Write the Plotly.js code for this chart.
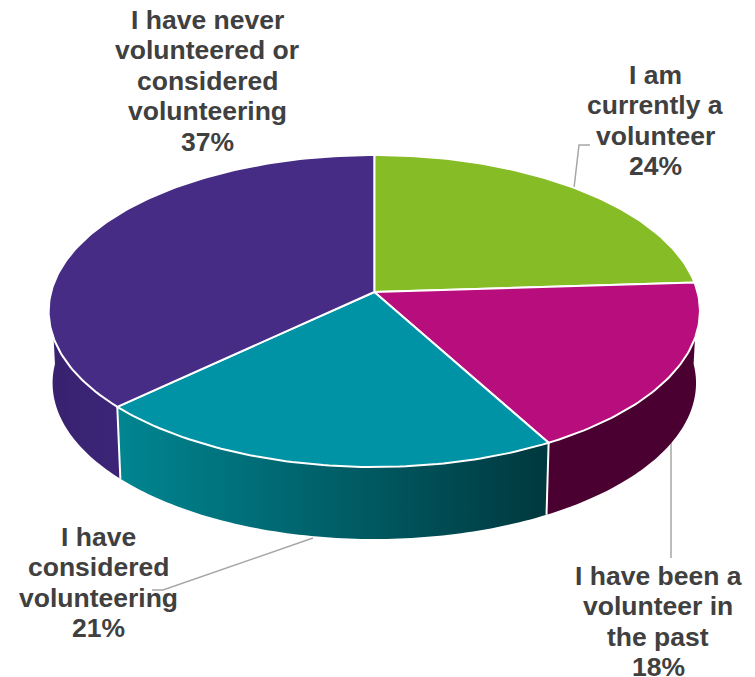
<!DOCTYPE html>
<html>
<head>
<meta charset="utf-8">
<script src="https://cdn.plot.ly/plotly-3.0.1.min.js"></script>
<style>html,body{margin:0;padding:0;background:#fff}#chart{width:755px;height:677px}</style>
</head>
<body>
<div id="chart"></div>
<script>
// Volunteering status of respondents, drawn as a tilted pie with a raised edge.
const categories = [
  ["I am", "currently a", "volunteer"],
  ["I have been a", "volunteer in", "the past"],
  ["I have", "considered", "volunteering"],
  ["I have never", "volunteered or", "considered", "volunteering"]
];
const values = [24, 18, 21, 37];
const topColors = ["#86bc25", "#b80d7c", "#0093a5", "#462c84"];
const sideColorsLeft = ["#5a7d19", "#4a0030", "#008692", "#38226f"];
const sideColorsRight = ["#5a7d19", "#4a0030", "#00383e", "#3c2578"];

const labelCentersX = [655, 658, 98, 207];
const labelFirstLineY = [74.5, 575.5, 536.5, 19.5];
const lineStep = 30.5;
const textColor = "#404040";
const leaderColor = "#a6a6a6";
const leaders = [
  "M 574 188 L 579 145 L 590 145",
  "M 671 430 L 671 558",
  "M 313 538 L 163 590 L 152 590"
];

// Viewing geometry of the disc: pivot, radii, foreshortening and edge height.
const view = {cx: 374.3, cy: 292, rx: 323.2, ry: 153.7, persp: 0.1218, depth: 72, baseScale: 0.988};

function rim(deg, lower) {
  const t = deg * Math.PI / 180;
  const u = Math.sin(t), v = Math.cos(t);
  const d = 1 + view.persp * v;
  const x = view.rx * u / d;
  const y = -view.ry * v / d;
  return lower
    ? [view.cx + x * view.baseScale, view.cy + y + view.depth]
    : [view.cx + x, view.cy + y];
}

const total = values.reduce((s, v) => s + v, 0);
const bounds = [0];
values.forEach(v => bounds.push(bounds[bounds.length - 1] + v / total * 360));

const traces = [];

// Edge of the disc: only the part between the two side extremes faces the viewer.
values.forEach((v, i) => {
  const a = Math.max(bounds[i], 90), b = Math.min(bounds[i + 1], 270);
  if (b <= a) return;
  const upper = [], lower = [];
  const n = Math.ceil(b - a);
  for (let k = 0; k <= n; k++) {
    const d = a + (b - a) * k / n;
    upper.push(rim(d));
    lower.unshift(rim(d, true));
  }
  const p = upper.concat(lower, [upper[0]]);
  traces.push({
    type: "scatter", mode: "none", fill: "toself",
    fillgradient: {
      type: "horizontal",
      colorscale: [[0, sideColorsLeft[i]], [1, sideColorsRight[i]]]
    },
    x: p.map(q => q[0]), y: p.map(q => q[1]),
    hoverinfo: "skip", showlegend: false
  });
});

// White seams between neighbouring edge faces.
bounds.slice(1, -1).forEach(d => {
  if (d < 90 || d > 270) return;
  const p = rim(d), q = rim(d, true);
  traces.push({
    type: "scatter", mode: "lines", x: [p[0], q[0]], y: [p[1], q[1]],
    line: {color: "#ffffff", width: 2}, hoverinfo: "skip", showlegend: false
  });
});

// Top face of each slice.
values.forEach((v, i) => {
  const xs = [view.cx], ys = [view.cy];
  const n = Math.ceil(bounds[i + 1] - bounds[i]);
  for (let k = 0; k <= n; k++) {
    const p = rim(bounds[i] + (bounds[i + 1] - bounds[i]) * k / n);
    xs.push(p[0]); ys.push(p[1]);
  }
  xs.push(view.cx); ys.push(view.cy);
  traces.push({
    type: "scatter", mode: "lines", fill: "toself", fillcolor: topColors[i],
    x: xs, y: ys, line: {color: "#ffffff", width: 2},
    name: categories[i].join(" "), text: values[i] + "%", hoverinfo: "name+text", showlegend: false
  });
});

// One annotation per text row keeps the tight line spacing of the labels.
const annotations = [];
categories.forEach((rows, i) => {
  rows.concat([values[i] + "%"]).forEach((row, r) => {
    annotations.push({
      x: labelCentersX[i], y: labelFirstLineY[i] + r * lineStep,
      xref: "x", yref: "y", xanchor: "center", yanchor: "middle",
      text: row, showarrow: false,
      font: {family: "Liberation Sans, Arial, sans-serif", size: 26.5, color: textColor, weight: 700}
    });
  });
});

const layout = {
  width: 755, height: 677,
  margin: {l: 0, r: 0, t: 0, b: 0},
  paper_bgcolor: "#ffffff", plot_bgcolor: "#ffffff",
  showlegend: false,
  xaxis: {range: [0, 755], visible: false, fixedrange: true},
  yaxis: {range: [677, 0], visible: false, fixedrange: true},
  shapes: leaders.map(path => ({
    type: "path", path, xref: "x", yref: "y", layer: "below",
    line: {color: leaderColor, width: 1.5}
  })),
  annotations
};

Plotly.newPlot("chart", traces, layout, {displayModeBar: false, responsive: false});
</script>
</body>
</html>
